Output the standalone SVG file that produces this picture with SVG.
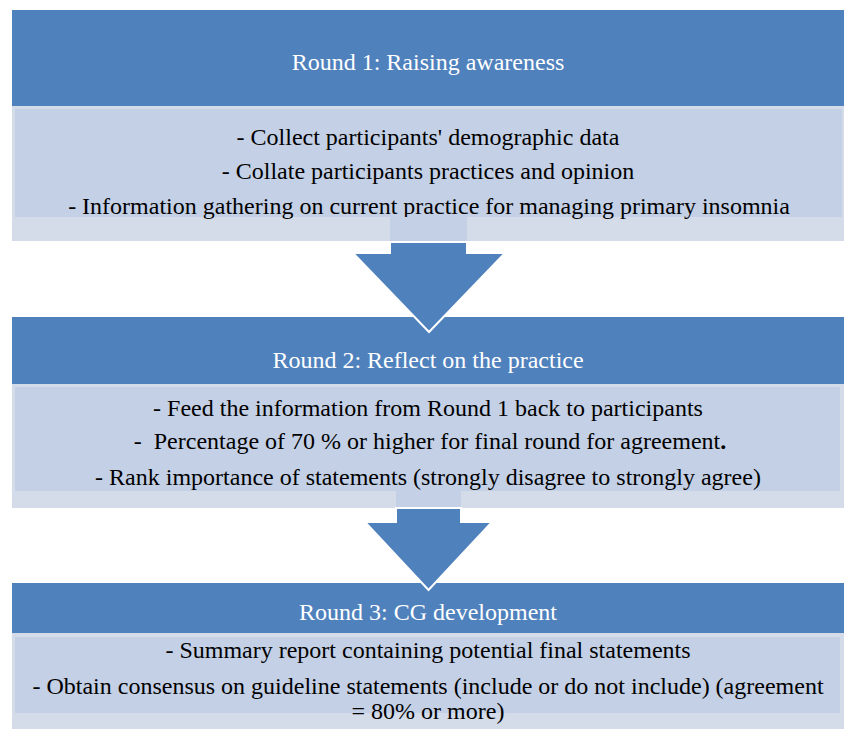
<svg xmlns="http://www.w3.org/2000/svg" width="844" height="729" viewBox="0 0 844 729">
  <style>
    .hdr { fill: #4F81BD; }
    .outer { fill: #D4DBE9; }
    .inner { fill: #C4D0E5; }
    .arrow { fill: #4F81BD; stroke: #FFFFFF; stroke-width: 2; stroke-linejoin: miter; }
    .stem { fill: #C4D0E5; }
    .t { font-family: "Liberation Serif", "Times New Roman", serif; font-size: 24px; text-anchor: middle; }
    .ht { fill: #FFFFFF; }
    .bt { fill: #000000; }
  </style>
  <rect width="844" height="729" fill="#FFFFFF"/>

  <g id="round1">
    <rect class="hdr" x="12" y="10" width="832" height="96"/>
    <rect class="outer" x="12" y="106" width="832" height="135"/>
    <rect class="inner" x="15" y="109" width="827" height="108"/>
    <text class="t ht" x="428" y="70">Round 1: Raising awareness</text>
    <text class="t bt" x="428" y="145">- Collect participants' demographic data</text>
    <text class="t bt" x="428" y="179">- Collate participants practices and opinion</text>
    <text class="t bt" x="429" y="214">- Information gathering on current practice for managing primary insomnia</text>
  </g>

  <g id="round2">
    <rect class="hdr" x="12" y="317" width="832" height="67"/>
    <rect class="outer" x="12" y="384" width="832" height="124"/>
    <rect class="inner" x="15" y="387" width="825" height="104"/>
    <text class="t ht" x="428" y="368">Round 2: Reflect on the practice</text>
    <text class="t bt" x="428" y="416">- Feed the information from Round 1 back to participants</text>
    <text class="t bt" x="430" y="449" xml:space="preserve">-  Percentage of 70 % or higher for final round for agreement<tspan font-weight="bold">.</tspan></text>
    <text class="t bt" x="428" y="485">- Rank importance of statements (strongly disagree to strongly agree)</text>
  </g>

  <g id="round3">
    <rect class="hdr" x="12" y="583" width="832" height="50"/>
    <rect class="outer" x="12" y="633" width="832" height="96"/>
    <rect class="inner" x="15" y="637" width="825" height="76"/>
    <text class="t ht" x="428" y="620">Round 3: CG development</text>
    <text class="t bt" x="428" y="658">- Summary report containing potential final statements</text>
    <text class="t bt" x="428" y="694">- Obtain consensus on guideline statements (include or do not include) (agreement</text>
    <text class="t bt" x="428" y="719">= 80% or more)</text>
  </g>

  <g id="connectors">
    <rect class="stem" x="390" y="217" width="77" height="24"/>
    <polygon class="arrow" points="390,242 467,242 467,253 505,253 429,332 353,253 390,253"/>
    <rect class="stem" x="396" y="491" width="65" height="17"/>
    <polygon class="arrow" points="396,508 461,508 461,522 492,522 428.5,590 365,522 396,522"/>
  </g>
</svg>
